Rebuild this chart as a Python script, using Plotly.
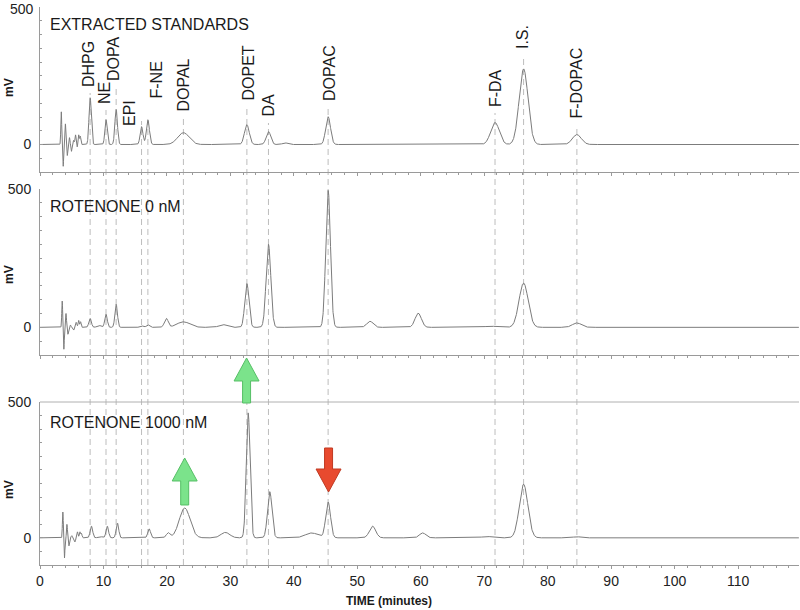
import numpy as np
import plotly.graph_objects as go
from plotly.subplots import make_subplots

# ---------------- data ----------------
analytes = ["DHPG", "NE", "DOPA", "EPI", "F-NE", "DOPAL", "DOPET", "DA",
            "DOPAC", "F-DA", "I.S.", "F-DOPAC"]
retention_min = [7.9, 10.4, 12.0, 16.0, 17.0, 22.6, 32.6, 36.0, 45.4, 71.7, 76.2, 84.6]

panel_titles = ["EXTRACTED STANDARDS", "ROTENONE 0 nM", "ROTENONE 1000 nM"]

# peak tables (retention time in min, height in mV, width sigma in min)
std_time = [3.35, 3.65, 4.0, 4.3, 4.65, 4.95, 5.3, 5.6, 5.85, 6.1, 6.35,
            7.9, 10.4, 12.0, 16.0, 17.0, 22.6, 32.6, 36.0, 38.6, 45.4, 71.7, 76.2, 84.6]
std_height = [120, -80, 75, -40, 25, -25, 15, 35, -10, 35, 30,
              170, 90, 127, 65, 90, 43, 72, 47, 6, 101, 80, 275, 36]
std_sigma = [0.07, 0.07, 0.07, 0.07, 0.08, 0.08, 0.08, 0.09, 0.08, 0.09, 0.08,
             0.18, 0.18, 0.2, 0.22, 0.24, 0.9, 0.38, 0.36, 0.4, 0.38, 0.68, 0.7, 0.7]

rot0_time = [3.5, 3.75, 4.1, 4.4, 4.8, 5.3, 5.7, 6.1, 6.4,
             7.9, 9.3, 10.4, 12.0, 16.0, 17.0, 19.9, 22.6, 28.8, 32.6, 36.0, 45.4,
             52.0, 59.6, 71.0, 76.2, 84.6]
rot0_height = [95, -80, 50, -25, 8, -10, 18, 25, 20,
               32, 7, 47, 83, 6, 9, 32, 20, 10, 158, 300, 495,
               22, 51, 4, 160, 16]
rot0_sigma = [0.07, 0.07, 0.07, 0.08, 0.1, 0.1, 0.1, 0.1, 0.08,
              0.2, 0.3, 0.2, 0.2, 0.25, 0.25, 0.3, 1.0, 0.6, 0.33, 0.37, 0.37,
              0.5, 0.5, 1.0, 0.72, 0.7]

rot1000_time = [3.6, 3.85, 4.25, 4.55, 5.0, 5.5, 5.9, 6.3, 6.55,
                8.1, 9.5, 10.6, 12.2, 17.2, 20.2, 22.8, 29.2, 32.8, 36.2, 42.8, 45.4,
                52.4, 60.3, 70.4, 76.2, 84.6]
rot1000_height = [95, -75, 50, -30, 8, -15, 22, 22, 15,
                  43, 5, 43, 54, 33, 18, 110, 20, 460, 170, 18, 131,
                  43, 18, 5, 197, 4]
rot1000_sigma = [0.07, 0.07, 0.07, 0.08, 0.1, 0.1, 0.1, 0.1, 0.08,
                 0.2, 0.3, 0.2, 0.2, 0.22, 0.3, 0.85, 0.7, 0.3, 0.35, 1.0, 0.38,
                 0.5, 0.5, 0.8, 0.68, 0.6]

x_tick_values = [0, 10, 20, 30, 40, 50, 60, 70, 80, 90, 100, 110]
y_tick_values = [0, 500]
y_tick_labels = ["0", "500"]
time_range = [0, 119.6]
mv_range = [-100, 500]

# ---------------- layout helpers ----------------
W, H = 800, 610
M_L, M_R, M_T, M_B = 40, 1, 7, 45
PLOT_H = H - M_T - M_B
PLOT_W = W - M_L - M_R
PX_PER_MIN = PLOT_W / (time_range[1] - time_range[0])


def fy(py):
    """pixel row -> paper fraction"""
    return (H - M_B - py) / PLOT_H


def fx(px):
    """pixel column -> paper fraction"""
    return (px - M_L) / PLOT_W


def trace_from(times, heights, sigmas, t):
    y = np.zeros_like(t)
    for t0, h, s in zip(times, heights, sigmas):
        y += h * np.exp(-0.5 * ((t - t0) / s) ** 2)
    return y


t = np.arange(time_range[0], time_range[1], 0.02)
series = [
    (std_time, std_height, std_sigma),
    (rot0_time, rot0_height, rot0_sigma),
    (rot1000_time, rot1000_height, rot1000_sigma),
]

fig = make_subplots(rows=3, cols=1, shared_xaxes=False)

for i, (tt, hh_, ss) in enumerate(series):
    fig.add_trace(go.Scatter(x=t, y=trace_from(tt, hh_, ss, t), mode="lines",
                             line=dict(color="#7c7c7c", width=1),
                             showlegend=False, hoverinfo="skip"),
                  row=i + 1, col=1)

domains = [[fy(172), fy(7)], [fy(355), fy(189)], [0.0, fy(402)]]
title_centers = [25, 206, 422]
mv_centers = [88, 275, 490]

axis_color = "#9a9a9a"
font_family = "Liberation Sans, Arial, sans-serif"
tick_font = dict(family=font_family, size=14, color="#222")

for i in range(3):
    n = "" if i == 0 else str(i + 1)
    # the top panel's upper label sits at the page edge; it is drawn as an annotation
    labels = [y_tick_labels[0], ""] if i == 0 else y_tick_labels
    fig.layout["yaxis" + n].update(
        domain=domains[i], range=mv_range, tickvals=y_tick_values, ticktext=labels,
        showline=True, linecolor=axis_color, linewidth=1,
        ticks="inside", ticklen=3, tickcolor=axis_color,
        minor=dict(dtick=50, ticks="inside", ticklen=2, tickcolor=axis_color),
        showgrid=False, zeroline=False, ticklabelstandoff=5, automargin=False,
        tickfont=tick_font)
    fig.layout["xaxis" + n].update(
        range=time_range, tickvals=x_tick_values,
        showline=True, linecolor=axis_color, linewidth=1,
        ticks="outside", ticklen=3, tickcolor=axis_color,
        minor=dict(dtick=2, ticks="outside", ticklen=2, tickcolor=axis_color),
        showgrid=False, zeroline=False, showticklabels=(i == 2), automargin=False,
        tickfont=tick_font)

annotations = [dict(text=y_tick_labels[1], xref="paper", yref="paper",
                    x=fx(M_L - 5), y=domains[0][1], xanchor="right",
                    yanchor="top", yshift=7, borderpad=0, showarrow=False,
                    font=tick_font)]
for i in range(3):
    annotations.append(dict(text=panel_titles[i], xref="paper", yref="paper",
                            x=fx(48), y=fy(title_centers[i]),
                            xanchor="left", yanchor="middle", showarrow=False,
                            font=dict(family=font_family, size=16, color="#1a1a1a")))
    annotations.append(dict(text="<b>mV</b>", xref="paper", yref="paper",
                            x=fx(9), y=fy(mv_centers[i]),
                            xanchor="center", yanchor="middle", textangle=-90,
                            showarrow=False,
                            font=dict(family=font_family, size=12, color="#1a1a1a")))

annotations.append(dict(text="<b>TIME (minutes)</b>", xref="paper", yref="paper",
                        x=fx(389), y=fy(601),
                        xanchor="center", yanchor="middle", showarrow=False,
                        font=dict(family=font_family, size=12, color="#1a1a1a")))

# analyte labels (rotated) and dashed retention lines
label_center_min = [7.57, 10.24, 11.66, 14.03, 18.28, 22.54, 32.78, 35.93,
                    45.7, 71.87, 76.12, 84.48]
label_bottom_px = [89, 106, 83, 128, 101, 114, 103, 119, 103, 109, 51, 121]
line_top_px = [93, 110, 88, 121, 121, 118, 107, 123, 107, 113, 55, 125]

shapes = []
for name, rt, lc, lb, lt in zip(analytes, retention_min, label_center_min,
                                label_bottom_px, line_top_px):
    annotations.append(dict(text=name, xref="x3", yref="paper", x=lc, y=fy(lb),
                            xanchor="center", yanchor="bottom", textangle=-90,
                            showarrow=False,
                            font=dict(family=font_family, size=16, color="#1a1a1a")))
    shapes.append(dict(type="line", xref="x3", yref="paper", x0=rt, x1=rt,
                       y0=0, y1=fy(lt), layer="below",
                       line=dict(color="#bdbdbd", width=1, dash="6px,4px")))

# top border of last panel
shapes.append(dict(type="line", xref="paper", yref="paper", x0=0, x1=1,
                   y0=fy(402), y1=fy(402), line=dict(color="#b0b0b0", width=1)))

# arrows (center time, tip row, tail row, direction, fill, edge)
arrow_specs = [
    (22.8, 458, 505, "up", "#7be38b", "#56bf66"),
    (32.55, 358, 403, "up", "#7be38b", "#56bf66"),
    (45.47, 492, 448, "down", "#e84a2f", "#c03a22"),
]
hh = 12.5 / PX_PER_MIN
hs = 4.0 / PX_PER_MIN
for xc, tip, tail, d, fill, edge in arrow_specs:
    sgn = 1 if d == "up" else -1
    base = tip + sgn * 23
    pts = [(xc, tip), (xc + hh, base), (xc + hs, base), (xc + hs, tail),
           (xc - hs, tail), (xc - hs, base), (xc - hh, base)]
    path = "M " + " L ".join(f"{x:.4f},{fy(y):.5f}" for x, y in pts) + " Z"
    shapes.append(dict(type="path", xref="x3", yref="paper", path=path,
                       fillcolor=fill, line=dict(color=edge, width=1), layer="above"))

fig.update_layout(width=W, height=H, margin=dict(l=M_L, r=M_R, t=M_T, b=M_B),
                  paper_bgcolor="white", plot_bgcolor="white",
                  annotations=annotations, shapes=shapes,
                  font=dict(family=font_family))

fig.write_html("out.html", config={"displayModeBar": False},
               post_script="document.body.style.margin='0';"
                           "document.body.style.overflow='hidden';")
